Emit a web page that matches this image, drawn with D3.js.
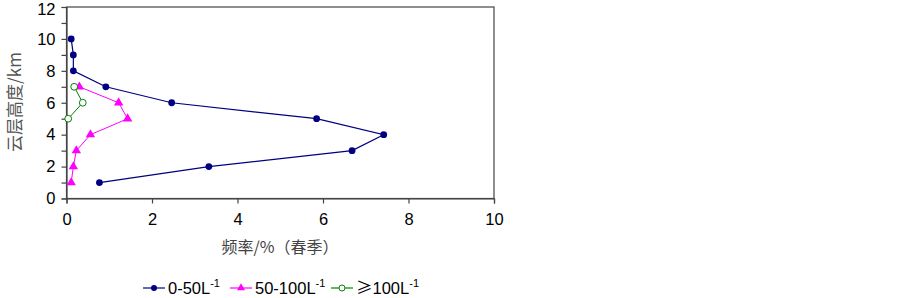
<!DOCTYPE html>
<html><head><meta charset="utf-8">
<script src="https://cdn.jsdelivr.net/npm/d3@7"></script>
<style>body{margin:0;background:#fff}svg{display:block}text{font-family:"Liberation Sans",Arial,sans-serif}</style>
</head><body><svg id="c" width="903" height="298"></svg>
<script>
const heights1 = [10, 9, 8, 7, 6, 5, 4, 3, 2, 1];
const series1 = [0.11, 0.16, 0.16, 0.92, 2.46, 5.85, 7.42, 6.68, 3.33, 0.77];
const heights2 = [7, 6, 5, 4, 3, 2, 1];
const series2 = [0.30, 1.22, 1.43, 0.56, 0.23, 0.16, 0.11];
const heights3 = [7, 6, 5];
const series3 = [0.18, 0.38, 0.04];
const seriesPrefix = ["", "", "≥"];
const seriesNames = ["0-50L", "50-100L", "100L"];
const xTicks = [0, 2, 4, 6, 8, 10];
const yTicks = [0, 2, 4, 6, 8, 10, 12];
const yMinor = [1, 3, 5, 7, 9, 11];

const svg = d3.select("#c");
const L = 66.5, R = 494, T = 7, B = 198.5;
const x = d3.scaleLinear().domain([0, 10]).range([L, R]);
const y = d3.scaleLinear().domain([0, 12]).range([B, T]);
const axisCol = "#444";
const latin = '"Liberation Sans",Arial,sans-serif';
const cjk = '"Noto Sans CJK SC",sans-serif';

// frame
svg.append("rect").attr("x", L).attr("y", T).attr("width", R - L).attr("height", B - T)
  .attr("fill", "none").attr("stroke", axisCol).attr("stroke-width", 1.2);

// x axis
const gx = svg.append("g").attr("transform", `translate(0,${B})`)
  .call(d3.axisBottom(x).tickValues(xTicks).tickSize(5).tickPadding(10).tickFormat(d3.format("d")));
gx.select(".domain").attr("stroke", axisCol).attr("stroke-width", 1.2);
gx.selectAll(".tick line").attr("stroke", axisCol).attr("stroke-width", 1.2);
gx.selectAll("text").attr("font-size", 16.5).attr("fill", "#000").attr("font-family", latin);

// y axis
const gy = svg.append("g").attr("transform", `translate(${L},0)`)
  .call(d3.axisLeft(y).tickValues(yTicks).tickSize(5).tickPadding(6).tickFormat(d3.format("d")));
gy.select(".domain").attr("stroke", axisCol).attr("stroke-width", 1.2);
gy.selectAll(".tick line").attr("stroke", axisCol).attr("stroke-width", 1.2);
gy.selectAll("text").attr("font-size", 16.5).attr("fill", "#000").attr("font-family", latin)
  .attr("dy", d => d === 12 ? "0.45em" : "0.32em");
const gym = svg.append("g").attr("transform", `translate(${L},0)`)
  .call(d3.axisLeft(y).tickValues(yMinor).tickSize(5).tickFormat(""));
gym.select(".domain").remove();
gym.selectAll(".tick line").attr("stroke", axisCol).attr("stroke-width", 1.2);

// axis labels
svg.append("text").attr("x", 280).attr("y", 253).attr("text-anchor", "middle")
  .attr("font-size", 16).attr("fill", "#444")
  .style("font-family", cjk).text("频率/%（春季）");
svg.append("text").attr("transform", "translate(21,102) rotate(-90)").attr("text-anchor", "middle")
  .attr("font-size", 17).attr("fill", "#555")
  .style("font-family", cjk).text("云层高度/km");

const line = d3.line().x(d => x(d[0])).y(d => y(d[1]));
const colors = ["#000080", "#ff00ff", "#008000"];
const data = [
  series1.map((v, i) => [v, heights1[i]]),
  series2.map((v, i) => [v, heights2[i]]),
  series3.map((v, i) => [v, heights3[i]])
];
const tri = d3.symbol().type(d3.symbolTriangle).size(38);

data.forEach((d, k) => {
  svg.append("path").datum(d).attr("d", line).attr("fill", "none")
    .attr("stroke", colors[k]).attr("stroke-width", k === 0 ? 1.2 : 1);
});
// markers
svg.selectAll(".m1").data(data[0]).enter().append("circle")
  .attr("cx", d => x(d[0])).attr("cy", d => y(d[1])).attr("r", 3.4).attr("fill", colors[0]);
svg.selectAll(".m2").data(data[1]).enter().append("path")
  .attr("d", tri).attr("transform", d => `translate(${x(d[0])},${y(d[1])})`).attr("fill", colors[1]);
svg.selectAll(".m3").data(data[2]).enter().append("circle")
  .attr("cx", d => x(d[0])).attr("cy", d => y(d[1])).attr("r", 3.4).attr("fill", "#fff")
  .attr("stroke", colors[2]).attr("stroke-width", 1);

// legend
const legX = [143, 230, 331];
seriesNames.forEach((name, k) => {
  const g = svg.append("g").attr("transform", `translate(${legX[k]},288)`);
  g.append("line").attr("x1", 0).attr("x2", 22).attr("y1", 0).attr("y2", 0)
    .attr("stroke", colors[k]).attr("stroke-width", 1.2);
  if (k === 0) g.append("circle").attr("cx", 11).attr("cy", 0).attr("r", 3).attr("fill", colors[0]);
  if (k === 1) g.append("path").attr("d", d3.symbol().type(d3.symbolTriangle).size(28)).attr("transform", "translate(11,0)").attr("fill", colors[1]);
  if (k === 2) g.append("circle").attr("cx", 11).attr("cy", 0).attr("r", 3).attr("fill", "#fff").attr("stroke", colors[2]);
  const t = g.append("text").attr("x", 25).attr("y", 6).attr("font-size", 16.5).attr("fill", "#000");
  if (seriesPrefix[k]) t.append("tspan").style("font-family", cjk).text(seriesPrefix[k]);
  t.append("tspan").text(name);
  t.append("tspan").attr("dy", -7).attr("font-size", 11).text("-1");
});
</script></body></html>
